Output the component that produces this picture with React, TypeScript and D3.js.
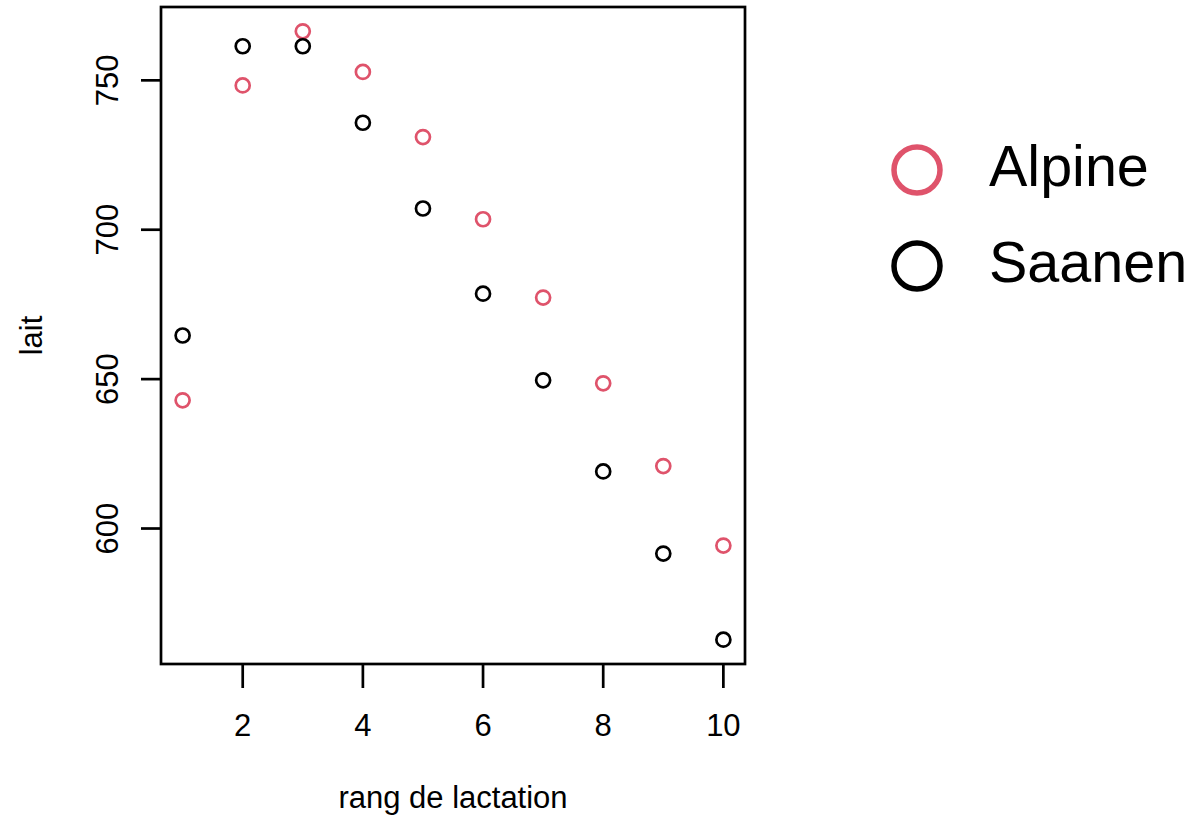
import React from 'react';
import * as d3 from 'd3';

const rang = [1, 2, 3, 4, 5, 6, 7, 8, 9, 10];
const alpine = [642.9, 748.3, 766.4, 752.8, 731.0, 703.5, 677.3, 648.6, 620.9, 594.3];
const saanen = [664.6, 761.4, 761.4, 735.8, 707.1, 678.6, 649.6, 619.1, 591.6, 562.8];
const xTicks = [2, 4, 6, 8, 10];
const yTicks = [600, 650, 700, 750];
const series = [
    { name: 'Alpine', values: alpine, color: '#DF536B' },
    { name: 'Saanen', values: saanen, color: '#000000' },
];

const W = 1191;
const H = 816;
const box = { left: 161, right: 745, top: 7, bottom: 664 };
const font = '"Liberation Sans", Arial, sans-serif';

// R style axis range: data range padded by 4%
const pad = (lo: number, hi: number) => {
    const d = (hi - lo) * 0.04;
    return [lo - d, hi + d];
};

const App = () => {
    const allY = [...alpine, ...saanen];
    const x = d3.scaleLinear()
        .domain(pad(d3.min(rang)!, d3.max(rang)!))
        .range([box.left, box.right]);
    const y = d3.scaleLinear()
        .domain(pad(d3.min(allY)!, d3.max(allY)!))
        .range([box.bottom, box.top]);

    const tickLen = 20;
    const fs = 31;

    return (
        <svg width={W} height={H} style={{ position: 'absolute', left: 0, top: 0, background: '#fff' }}
            fontFamily={font}>
            <rect x={box.left} y={box.top} width={box.right - box.left} height={box.bottom - box.top}
                fill="none" stroke="#000" strokeWidth={2.7} />

            {/* x axis */}
            {xTicks.map(t => (
                <g key={t}>
                    <line x1={x(t)} x2={x(t)} y1={box.bottom} y2={box.bottom + tickLen + 4} stroke="#000" strokeWidth={2.7} />
                    <text x={x(t)} y={736} fontSize={fs} textAnchor="middle">{t}</text>
                </g>
            ))}
            <text x={(box.left + box.right) / 2} y={808} fontSize={fs} textAnchor="middle">rang de lactation</text>

            {/* y axis */}
            {yTicks.map(t => (
                <g key={t}>
                    <line x1={box.left - tickLen} x2={box.left} y1={y(t)} y2={y(t)} stroke="#000" strokeWidth={2.7} />
                    <text transform={`translate(118,${y(t)}) rotate(-90)`} fontSize={fs} textAnchor="middle">{t}</text>
                </g>
            ))}
            <text transform={`translate(42,${(box.top + box.bottom) / 2}) rotate(-90)`} fontSize={fs} textAnchor="middle">lait</text>

            {/* points */}
            {series.map(s => (
                <g key={s.name}>
                    {s.values.map((v, i) => (
                        <circle key={i} cx={x(rang[i])} cy={y(v)} r={7} fill="none" stroke={s.color} strokeWidth={2.7} />
                    ))}
                </g>
            ))}

            {/* legend */}
            {series.map((s, i) => (
                <g key={s.name} transform={`translate(0,${i * 96})`}>
                    <circle cx={917} cy={170} r={23} fill="none" stroke={s.color} strokeWidth={5.5} />
                    <text x={989} y={186} fontSize={57.5}>{s.name}</text>
                </g>
            ))}
        </svg>
    );
};

export default App;
